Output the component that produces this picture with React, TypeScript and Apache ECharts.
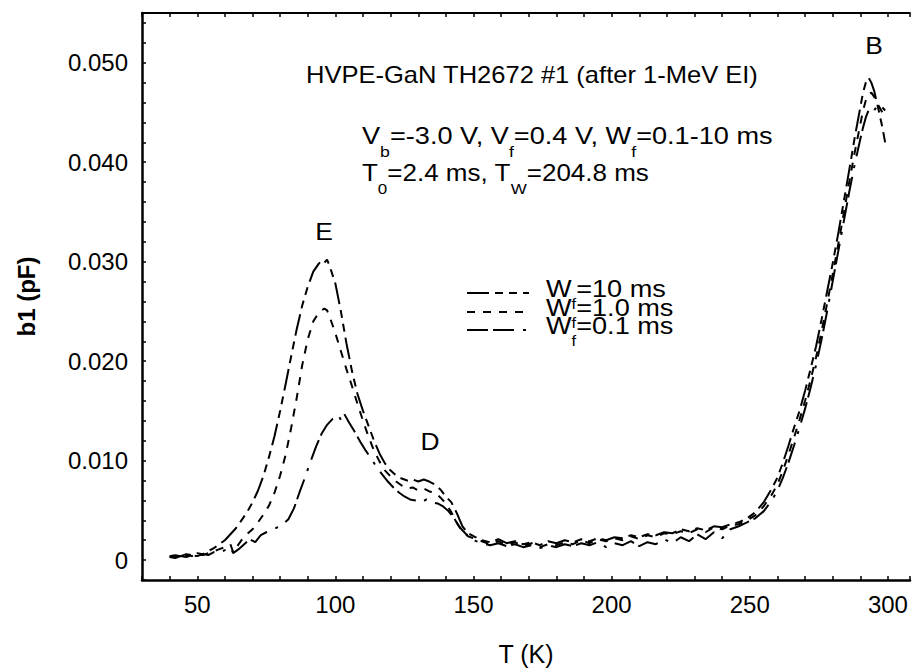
import React, { useEffect, useRef } from "react";
import * as echarts from "echarts";

// ---------- data ----------
const seriesNames = ["Wf=10 ms", "Wf=1.0 ms", "Wf=0.1 ms"];
const legendValues = ["=10 ms", "=1.0 ms", "=0.1 ms"];

const wf10: [number, number][] = [
  [40, 0.0004], [42, 0.0005], [44, 0.0004], [46, 0.0006], [48, 0.0005], [50, 0.0007], [52, 0.0006], [54, 0.0009],
  [56, 0.0012], [58, 0.0016], [60, 0.002], [62, 0.0026], [64, 0.0032], [66, 0.004], [68, 0.0048], [70, 0.0058],
  [72, 0.007], [74, 0.0085], [76, 0.0104], [78, 0.0125], [80, 0.015], [82, 0.0177], [84, 0.0205], [86, 0.0232],
  [88, 0.0256], [90, 0.0275], [92, 0.029], [94, 0.0298], [95, 0.0301], [96, 0.0299], [97, 0.0302], [98, 0.0295],
  [100, 0.0278], [102, 0.025], [104, 0.0218], [106, 0.019], [108, 0.0167], [110, 0.015], [112, 0.0135], [114, 0.012],
  [116, 0.0107], [118, 0.0097], [120, 0.009], [122, 0.0085], [124, 0.0082], [126, 0.008], [128, 0.0081], [130, 0.0079],
  [132, 0.0081], [134, 0.0079], [136, 0.0076], [138, 0.0071], [140, 0.0064], [142, 0.0058], [144, 0.0047], [146, 0.0034],
  [148, 0.0027], [150, 0.0024], [153, 0.002], [156, 0.0018], [159, 0.0021], [162, 0.0017], [165, 0.0019], [168, 0.0016],
  [171, 0.0018], [174, 0.0015], [177, 0.0019], [180, 0.0017], [183, 0.002], [186, 0.0018], [189, 0.0021], [192, 0.0019],
  [195, 0.0022], [198, 0.002], [201, 0.0023], [204, 0.0022], [207, 0.0025], [210, 0.0023], [213, 0.0026], [216, 0.0025],
  [219, 0.0028], [222, 0.0027], [225, 0.0031], [228, 0.0029], [231, 0.0032], [234, 0.003], [237, 0.0034], [240, 0.0033],
  [243, 0.0036], [246, 0.0038], [249, 0.0042], [252, 0.0048], [255, 0.0058], [258, 0.0072], [260, 0.0083], [262, 0.0098],
  [264, 0.0115], [266, 0.0133], [268, 0.015], [270, 0.017], [272, 0.0192], [274, 0.0215], [276, 0.0242], [278, 0.027],
  [280, 0.0298], [282, 0.0328], [284, 0.036], [286, 0.0392], [288, 0.0425], [290, 0.0455], [291, 0.047], [292, 0.048],
  [293, 0.0485], [294, 0.048], [295, 0.0472], [296, 0.046], [297, 0.0448], [298, 0.0435], [299, 0.042],
];

const wf1: [number, number][] = [
  [40, 0.0003], [42, 0.0004], [44, 0.0003], [46, 0.0005], [48, 0.0004], [50, 0.0006], [52, 0.0005], [54, 0.0007],
  [56, 0.0009], [58, 0.0011], [60, 0.0013], [62, 0.0016], [63, 0.0008], [64, 0.0012], [66, 0.002], [68, 0.0026],
  [70, 0.0031], [72, 0.0038], [74, 0.0046], [76, 0.0055], [78, 0.0068], [80, 0.0085], [82, 0.0106], [84, 0.0133],
  [86, 0.0163], [88, 0.0196], [90, 0.0222], [92, 0.024], [94, 0.0249], [96, 0.0253], [97, 0.0251], [98, 0.0244],
  [100, 0.0228], [102, 0.021], [104, 0.0192], [106, 0.0175], [108, 0.0157], [110, 0.014], [112, 0.0124], [114, 0.011],
  [116, 0.0099], [118, 0.009], [120, 0.0084], [122, 0.0079], [124, 0.0075], [126, 0.0072], [128, 0.0073], [130, 0.007],
  [132, 0.0072], [134, 0.0069], [136, 0.0068], [138, 0.0063], [140, 0.0057], [142, 0.0048], [144, 0.0037], [146, 0.0029],
  [148, 0.0024], [150, 0.0022], [153, 0.0019], [156, 0.0016], [159, 0.0019], [162, 0.0015], [165, 0.0018], [168, 0.0014],
  [171, 0.0017], [174, 0.0013], [177, 0.0016], [180, 0.0015], [183, 0.0018], [186, 0.0016], [189, 0.002], [192, 0.0017],
  [195, 0.0021], [198, 0.0019], [201, 0.0022], [204, 0.002], [207, 0.0024], [210, 0.0021], [213, 0.0025], [216, 0.0023],
  [219, 0.0027], [222, 0.0026], [225, 0.0029], [228, 0.0027], [231, 0.0031], [234, 0.0028], [237, 0.0033], [240, 0.0031],
  [243, 0.0035], [246, 0.0036], [249, 0.004], [252, 0.0045], [255, 0.0054], [258, 0.0066], [260, 0.0076], [262, 0.009],
  [264, 0.0106], [266, 0.0123], [268, 0.0141], [270, 0.016], [272, 0.0181], [274, 0.0204], [276, 0.023], [278, 0.0258],
  [280, 0.0287], [282, 0.0317], [284, 0.0348], [286, 0.038], [288, 0.041], [290, 0.0438], [291, 0.0452], [292, 0.0462],
  [293, 0.0468], [294, 0.047], [295, 0.0466], [296, 0.046], [297, 0.0455], [298, 0.045], [299, 0.0445],
];

const wf01: [number, number][] = [
  [40, 0.0003], [42, 0.0002], [44, 0.0004], [46, 0.0003], [48, 0.0005], [50, 0.0004], [52, 0.0006], [54, 0.0005],
  [56, 0.0008], [58, 0.0007], [60, 0.001], [62, 0.0013], [63, 0.0007], [65, 0.0011], [67, 0.0016], [69, 0.0021],
  [71, 0.0018], [73, 0.0025], [75, 0.0028], [77, 0.003], [79, 0.0033], [81, 0.0036], [83, 0.0041], [85, 0.0052],
  [87, 0.0068], [89, 0.0083], [91, 0.0099], [93, 0.0114], [95, 0.0127], [97, 0.0136], [99, 0.0142], [101, 0.0146],
  [102, 0.0141], [103, 0.0148], [105, 0.0138], [107, 0.0129], [109, 0.0119], [111, 0.011], [113, 0.0102], [115, 0.0093],
  [117, 0.0086], [119, 0.0079], [121, 0.0073], [123, 0.0068], [125, 0.0064], [127, 0.0061], [129, 0.006], [131, 0.0058],
  [133, 0.0061], [135, 0.0058], [137, 0.0057], [139, 0.0054], [141, 0.0049], [143, 0.0042], [145, 0.0033], [147, 0.0027],
  [149, 0.0022], [150, 0.002], [153, 0.0017], [156, 0.0015], [159, 0.0017], [162, 0.0014], [165, 0.0016], [168, 0.0013],
  [171, 0.0015], [174, 0.0012], [177, 0.0015], [180, 0.0013], [183, 0.0016], [186, 0.0014], [189, 0.0017], [192, 0.0015],
  [195, 0.0018], [198, 0.0013], [201, 0.0017], [204, 0.0015], [207, 0.0019], [210, 0.0014], [213, 0.0018], [216, 0.0016],
  [219, 0.0021], [222, 0.0017], [225, 0.0023], [228, 0.0019], [231, 0.0026], [234, 0.0021], [237, 0.0028], [240, 0.0022],
  [243, 0.0031], [246, 0.0034], [249, 0.0038], [252, 0.0042], [255, 0.0049], [258, 0.006], [260, 0.007], [262, 0.0083],
  [264, 0.0098], [266, 0.0115], [268, 0.0133], [270, 0.0152], [272, 0.0173], [274, 0.0196], [276, 0.0222], [278, 0.025],
  [280, 0.028], [282, 0.031], [284, 0.034], [286, 0.037], [288, 0.0398], [290, 0.0423], [291, 0.0435], [292, 0.0445],
  [293, 0.0452], [294, 0.0455], [295, 0.0452], [296, 0.0456], [297, 0.0458], [298, 0.0455], [299, 0.0452],
];

const allSeries = [wf10, wf1, wf01];

// axis settings
const xMin = 30;
const xMax = 308;
const xStep = 10;
const xLabelEvery = 50;
const yMin = -0.002;
const yMax = 0.055;
const yStep = 0.002;

// annotation texts
const titleText = "HVPE-GaN TH2672 #1 (after 1-MeV EI)";
const peakLabels = ["E", "D", "B"];

// ---------- styles ----------
const FONT = "'Liberation Sans', Arial, Helvetica, sans-serif";
const dashPatterns = [
  [22, 6, 8, 6, 8, 6],
  [8, 8],
  [21, 5, 21, 9, 3, 9],
];

function richStyle(main: number, sub: number, lh: number, pad: number) {
  return {
    m: { fontSize: main, fontFamily: FONT, lineHeight: lh, verticalAlign: "top", fill: "#000", color: "#000" },
    s: {
      fontSize: sub,
      fontFamily: FONT,
      lineHeight: sub,
      verticalAlign: "top",
      padding: [pad, 0, 0, 0],
      fill: "#000",
      color: "#000",
    },
  };
}

function richText(x: number, y: number, text: string, sx: number, main = 23, sub = 15, lh = 27, pad = 20) {
  return {
    type: "text",
    x,
    y,
    scaleX: sx,
    silent: true,
    style: {
      text,
      x: 0,
      y: 0,
      fill: "#000",
      align: "left",
      verticalAlign: "top",
      textAlign: "left",
      textVerticalAlign: "top",
      rich: richStyle(main, sub, lh, pad),
    },
  };
}

function plainText(x: number, y: number, text: string, sx: number, size: number, align = "left") {
  return {
    type: "text",
    x,
    y,
    scaleX: sx,
    silent: true,
    style: {
      text,
      x: 0,
      y: 0,
      fill: "#000",
      fontSize: size,
      fontFamily: FONT,
      align,
      verticalAlign: "middle",
      textAlign: align,
      textVerticalAlign: "middle",
    },
  };
}

export default function App() {
  const ref = useRef<HTMLDivElement>(null);

  useEffect(() => {
    if (!ref.current) return;
    const chart = echarts.init(ref.current, undefined, { renderer: "svg" });

    const axisLineStyle = { color: "#000", width: 2.5 };
    const tickStyle = { color: "#000", width: 1.5 };

    const legendRows = [293, 312, 330];
    const legendGraphics: any[] = [];
    legendRows.forEach((yy, i) => {
      legendGraphics.push({
        type: "line",
        silent: true,
        shape: { x1: 467, y1: yy, x2: 529, y2: yy },
        style: { stroke: "#000", lineWidth: 2, lineDash: dashPatterns[i] },
      });
      legendGraphics.push(
        richText(546, yy - 16, `{m|W}{s|f}{m|${legendValues[i]}}`, 1.18, 23, 14, 27, 20)
      );
    });

    const option: any = {
      animation: false,
      backgroundColor: "#fff",
      grid: { left: 142, top: 13, width: 771, bottom: 89, containLabel: false },
      xAxis: [
        {
          type: "value",
          position: "bottom",
          min: xMin,
          max: xMax,
          interval: xStep,
          name: "T (K)",
          nameLocation: "middle",
          nameGap: 61,
          nameTextStyle: { fontFamily: FONT, fontSize: 25, color: "#000" },
          axisLine: { show: true, onZero: false, lineStyle: axisLineStyle },
          axisTick: { show: true, inside: true, length: 4, lineStyle: tickStyle },
          axisLabel: {
            margin: 12,
            fontFamily: FONT,
            fontSize: 24,
            color: "#000",
            formatter: (v: number) => (Math.round(v) % xLabelEvery === 0 ? String(Math.round(v)) : ""),
          },
          splitLine: { show: false },
        },
        {
          type: "value",
          position: "top",
          min: xMin,
          max: xMax,
          interval: xStep,
          axisLine: { show: true, onZero: false, lineStyle: { color: "#000", width: 1.8 } },
          axisTick: { show: true, inside: true, length: 4, lineStyle: tickStyle },
          axisLabel: { show: false },
          splitLine: { show: false },
        },
      ],
      yAxis: [
        {
          type: "value",
          min: yMin,
          max: yMax,
          interval: yStep,
          name: "b1 (pF)",
          nameLocation: "middle",
          nameGap: 104,
          nameTextStyle: { fontFamily: FONT, fontSize: 24, fontWeight: "bold", color: "#000" },
          axisLine: { show: true, onZero: false, lineStyle: axisLineStyle },
          axisTick: { show: true, inside: true, length: 4, lineStyle: tickStyle },
          axisLabel: {
            margin: 14,
            fontFamily: FONT,
            fontSize: 24,
            color: "#000",
            formatter: (v: number) => {
              const k = Math.round(v * 1000);
              if (k < 0 || k % 10 !== 0 || k > 50) return "";
              return k === 0 ? "0" : (k / 1000).toFixed(3);
            },
          },
          splitLine: { show: false },
        },
      ],
      series: allSeries.map((d, i) => ({
        name: seriesNames[i],
        type: "line",
        data: d,
        symbol: "none",
        showSymbol: false,
        clip: true,
        lineStyle: { color: "#000", width: 2, type: dashPatterns[i] },
        emphasis: { disabled: true },
      })),
      graphic: [
        plainText(306, 75, titleText, 1.11, 23),
        richText(362, 124.5, "{m|V}{s|b}{m|=-3.0 V, V}{s|f}{m|=0.4 V, W}{s|f}{m|=0.1-10 ms}", 1.18),
        richText(362, 161.5, "{m|T}{s|0}{m|=2.4 ms, T}{s|W}{m|=204.8 ms}", 1.13),
        plainText(324, 231, peakLabels[0], 1.1, 24, "center"),
        plainText(430, 441, peakLabels[1], 1.1, 24, "center"),
        plainText(874, 45, peakLabels[2], 1.1, 24, "center"),
        ...legendGraphics,
      ],
    };

    chart.setOption(option);
    return () => chart.dispose();
  }, []);

  return (
    <div
      ref={ref}
      style={{ position: "fixed", left: 0, top: 0, width: 913, height: 671, background: "#fff" }}
    />
  );
}
